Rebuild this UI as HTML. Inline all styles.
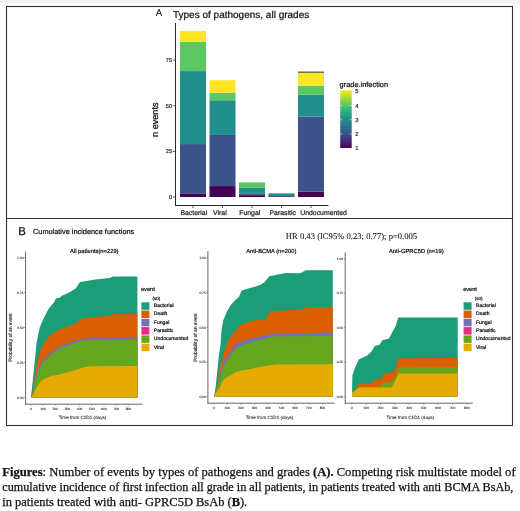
<!DOCTYPE html>
<html><head><meta charset="utf-8"><style>
html,body{margin:0;padding:0;background:#fff;}
body{width:520px;height:511px;position:relative;overflow:hidden;}
svg{position:absolute;left:0;top:0;} .wrap{position:absolute;left:0;top:0;width:520px;height:511px;filter:blur(0.35px);} text{text-rendering:geometricPrecision;}
.cap{position:absolute;left:2.3px;font-family:"Liberation Serif",serif;line-height:12px;height:12px;color:#111;white-space:nowrap;-webkit-text-stroke:0.25px #111;}
</style></head><body>
<div class="wrap">
<svg width="520" height="511" viewBox="0 0 520 511">
<rect x="0" y="0" width="520" height="3" fill="#f2f2f2"/>
<rect x="0" y="3" width="520" height="1" fill="#f8f8f8"/>
<rect x="6.5" y="6.5" width="506" height="419" fill="none" stroke="#333" stroke-width="1.1"/>
<line x1="6" y1="218.5" x2="513" y2="218.5" stroke="#333" stroke-width="1.1"/>
<text x="155.7" y="16.3" font-size="9.7" fill="#111" text-anchor="start" font-family="Liberation Sans" font-weight="normal" stroke="#111" stroke-width="0.1">A</text>
<text x="173.0" y="18.0" font-size="10.0" fill="#111" text-anchor="start" font-family="Liberation Sans" font-weight="normal" stroke="#111" stroke-width="0.22">Types of pathogens, all grades</text>
<rect x="180.0" y="193.35" width="26" height="3.65" fill="#440154"/>
<rect x="180.0" y="144.07" width="26" height="49.28" fill="#3B528B"/>
<rect x="180.0" y="71.08" width="26" height="73.00" fill="#21908C"/>
<rect x="180.0" y="41.88" width="26" height="29.20" fill="#5DC863"/>
<rect x="180.0" y="30.93" width="26" height="10.95" fill="#FDE725"/>
<line x1="193.0" y1="206" x2="193.0" y2="208" stroke="#333" stroke-width="0.8"/>
<text x="180.4" y="214.8" font-size="6.9" fill="#222" text-anchor="start" font-family="Liberation Sans" font-weight="normal" stroke="#222" stroke-width="0.22">Bacterial</text>
<rect x="209.5" y="186.05" width="26" height="10.95" fill="#440154"/>
<rect x="209.5" y="134.95" width="26" height="51.10" fill="#3B528B"/>
<rect x="209.5" y="100.28" width="26" height="34.67" fill="#21908C"/>
<rect x="209.5" y="92.98" width="26" height="7.30" fill="#5DC863"/>
<rect x="209.5" y="80.20" width="26" height="12.78" fill="#FDE725"/>
<line x1="222.5" y1="206" x2="222.5" y2="208" stroke="#333" stroke-width="0.8"/>
<text x="213.0" y="214.8" font-size="6.9" fill="#222" text-anchor="start" font-family="Liberation Sans" font-weight="normal" stroke="#222" stroke-width="0.22">Viral</text>
<rect x="239.0" y="195.18" width="26" height="1.82" fill="#440154"/>
<rect x="239.0" y="193.35" width="26" height="1.83" fill="#3B528B"/>
<rect x="239.0" y="187.88" width="26" height="5.47" fill="#21908C"/>
<rect x="239.0" y="182.40" width="26" height="5.47" fill="#5DC863"/>
<line x1="252.0" y1="206" x2="252.0" y2="208" stroke="#333" stroke-width="0.8"/>
<text x="239.2" y="214.8" font-size="6.9" fill="#222" text-anchor="start" font-family="Liberation Sans" font-weight="normal" stroke="#222" stroke-width="0.22">Fungal</text>
<rect x="268.5" y="195.18" width="26" height="1.82" fill="#3B528B"/>
<rect x="268.5" y="193.35" width="26" height="1.83" fill="#21908C"/>
<line x1="281.5" y1="206" x2="281.5" y2="208" stroke="#333" stroke-width="0.8"/>
<text x="269.5" y="214.8" font-size="6.9" fill="#222" text-anchor="start" font-family="Liberation Sans" font-weight="normal" stroke="#222" stroke-width="0.22">Parasitic</text>
<rect x="298.0" y="191.53" width="26" height="5.47" fill="#440154"/>
<rect x="298.0" y="116.70" width="26" height="74.83" fill="#3B528B"/>
<rect x="298.0" y="94.80" width="26" height="21.90" fill="#21908C"/>
<rect x="298.0" y="85.67" width="26" height="9.12" fill="#5DC863"/>
<rect x="298.0" y="72.90" width="26" height="12.77" fill="#FDE725"/>
<rect x="298.0" y="71.50" width="26" height="1.4" fill="#6a6530"/>
<line x1="311.0" y1="206" x2="311.0" y2="208" stroke="#333" stroke-width="0.8"/>
<text x="300.2" y="214.8" font-size="6.9" fill="#222" text-anchor="start" font-family="Liberation Sans" font-weight="normal" stroke="#222" stroke-width="0.22">Undocumented</text>
<line x1="175.5" y1="23" x2="175.5" y2="206" stroke="#2a2a2a" stroke-width="1"/>
<line x1="175" y1="205.5" x2="328.4" y2="205.5" stroke="#2a2a2a" stroke-width="1"/>
<line x1="172.8" y1="197.0" x2="175.5" y2="197.0" stroke="#333" stroke-width="0.8"/>
<text x="172.0" y="199.0" font-size="5.6" fill="#333" text-anchor="end" font-family="Liberation Sans" font-weight="normal" stroke="#333" stroke-width="0.22">0</text>
<line x1="172.8" y1="151.375" x2="175.5" y2="151.375" stroke="#333" stroke-width="0.8"/>
<text x="172.0" y="153.375" font-size="5.6" fill="#333" text-anchor="end" font-family="Liberation Sans" font-weight="normal" stroke="#333" stroke-width="0.22">25</text>
<line x1="172.8" y1="105.75" x2="175.5" y2="105.75" stroke="#333" stroke-width="0.8"/>
<text x="172.0" y="107.75" font-size="5.6" fill="#333" text-anchor="end" font-family="Liberation Sans" font-weight="normal" stroke="#333" stroke-width="0.22">50</text>
<line x1="172.8" y1="60.125" x2="175.5" y2="60.125" stroke="#333" stroke-width="0.8"/>
<text x="172.0" y="62.125" font-size="5.6" fill="#333" text-anchor="end" font-family="Liberation Sans" font-weight="normal" stroke="#333" stroke-width="0.22">75</text>
<text x="0" y="0" font-size="9.1" fill="#111" stroke="#111" stroke-width="0.3" text-anchor="middle" font-family="Liberation Sans" transform="translate(158.3,119.7) rotate(-90)">n events</text>
<text x="339.6" y="86.9" font-size="7.4" fill="#111" text-anchor="start" font-family="Liberation Sans" font-weight="normal" stroke="#111" stroke-width="0.22">grade.infection</text>
<defs><linearGradient id="vg" x1="0" y1="1" x2="0" y2="0"><stop offset="0.0" stop-color="#440154"/><stop offset="0.1" stop-color="#482576"/><stop offset="0.2" stop-color="#414487"/><stop offset="0.3" stop-color="#35608D"/><stop offset="0.4" stop-color="#2A788E"/><stop offset="0.5" stop-color="#21908C"/><stop offset="0.6" stop-color="#22A884"/><stop offset="0.7" stop-color="#43BF71"/><stop offset="0.8" stop-color="#7AD151"/><stop offset="0.9" stop-color="#BBDF27"/><stop offset="1.0" stop-color="#FDE725"/></linearGradient></defs>
<rect x="340.2" y="90.2" width="11.5" height="57.8" fill="url(#vg)"/>
<text x="355.2" y="93.3" font-size="5.8" fill="#333" text-anchor="start" font-family="Liberation Sans" font-weight="normal" stroke="#333" stroke-width="0.22">5</text>
<text x="355.2" y="107.57" font-size="5.8" fill="#333" text-anchor="start" font-family="Liberation Sans" font-weight="normal" stroke="#333" stroke-width="0.22">4</text>
<line x1="340.2" y1="105.47" x2="342.4" y2="105.47" stroke="#fff" stroke-width="0.5"/>
<line x1="349.5" y1="105.47" x2="351.7" y2="105.47" stroke="#fff" stroke-width="0.5"/>
<text x="355.2" y="121.84" font-size="5.8" fill="#333" text-anchor="start" font-family="Liberation Sans" font-weight="normal" stroke="#333" stroke-width="0.22">3</text>
<line x1="340.2" y1="119.74000000000001" x2="342.4" y2="119.74000000000001" stroke="#fff" stroke-width="0.5"/>
<line x1="349.5" y1="119.74000000000001" x2="351.7" y2="119.74000000000001" stroke="#fff" stroke-width="0.5"/>
<text x="355.2" y="136.10999999999999" font-size="5.8" fill="#333" text-anchor="start" font-family="Liberation Sans" font-weight="normal" stroke="#333" stroke-width="0.22">2</text>
<line x1="340.2" y1="134.01" x2="342.4" y2="134.01" stroke="#fff" stroke-width="0.5"/>
<line x1="349.5" y1="134.01" x2="351.7" y2="134.01" stroke="#fff" stroke-width="0.5"/>
<text x="355.2" y="150.38" font-size="5.8" fill="#333" text-anchor="start" font-family="Liberation Sans" font-weight="normal" stroke="#333" stroke-width="0.22">1</text>
<text x="18.3" y="234.8" font-size="11.4" fill="#111" text-anchor="start" font-family="Liberation Sans" font-weight="normal" stroke="#111" stroke-width="0.25">B</text>
<text x="33" y="233.5" font-size="7.35" fill="#111" text-anchor="start" font-family="Liberation Sans" font-weight="normal" stroke="#111" stroke-width="0.22">Cumulative incidence functions</text>
<text x="285.8" y="238.7" font-size="8.62" fill="#111" text-anchor="start" font-family="Liberation Serif" font-weight="normal" stroke="#111" stroke-width="0.08">HR 0.43 (IC95% 0.23; 0.77); p=0.005</text>
<polygon points="30.9,397.6 31.4,393.0 32.7,381.0 34.5,363.5 36.6,343.0 38.3,334.1 39.8,327.3 42.7,320.4 46.1,313.6 48.6,308.7 52.0,304.8 54.4,301.8 55.9,298.4 60.0,297.6 62.0,295.8 69.1,292.4 75.9,288.3 79.4,282.8 80.0,282.1 88.0,280.8 95.1,279.4 109.5,278.0 112.9,276.6 137.4,276.6 137.4,397.6 30.9,397.6" fill="#1B9E77"/>
<polygon points="30.9,397.6 32.7,390.5 34.5,378.7 36.8,364.0 39.7,352.6 42.0,346.5 45.3,340.8 51.3,334.3 58.0,330.0 68.5,326.5 73.5,324.6 77.9,321.5 81.5,319.0 88.0,317.5 99.8,316.8 111.5,315.2 112.9,314.2 137.4,314.0 137.4,397.6 30.9,397.6" fill="#D95F02"/>
<polygon points="30.9,397.6 33.0,390.5 34.6,381.3 38.2,368.5 41.7,361.5 48.7,354.4 57.6,347.4 62.2,345.4 76.0,340.6 80.0,339.4 88.2,338.0 137.4,337.5 137.4,397.6 30.9,397.6" fill="#7570B3"/>
<polygon points="30.9,397.6 33.3,391.6 35.0,382.3 38.6,370.5 42.1,363.5 49.1,356.4 58.0,349.4 62.2,347.6 76.0,342.6 80.0,341.3 88.2,340.3 137.4,340.1 137.4,397.6 30.9,397.6" fill="#66A61E"/>
<polygon points="30.9,397.6 32.7,395.2 35.0,390.5 37.4,386.0 40.9,381.3 43.7,379.3 46.8,377.8 51.4,376.0 58.0,374.8 61.0,374.3 68.5,372.0 76.3,369.7 84.1,367.3 90.0,366.2 137.4,365.9 137.4,397.6 30.9,397.6" fill="#E6AB02"/>
<line x1="25.6" y1="251.4" x2="25.6" y2="404.7" stroke="#555" stroke-width="0.9"/>
<line x1="25.150000000000002" y1="404.2" x2="142.6" y2="404.2" stroke="#555" stroke-width="0.9"/>
<line x1="24.1" y1="397.6" x2="25.6" y2="397.6" stroke="#555" stroke-width="0.5"/>
<text x="23.5" y="398.8" font-size="3.3" fill="#333" text-anchor="end" font-family="Liberation Sans" font-weight="normal" stroke="#333" stroke-width="0.12">0.00</text>
<line x1="24.1" y1="362.6" x2="25.6" y2="362.6" stroke="#555" stroke-width="0.5"/>
<text x="23.5" y="363.8" font-size="3.3" fill="#333" text-anchor="end" font-family="Liberation Sans" font-weight="normal" stroke="#333" stroke-width="0.12">0.25</text>
<line x1="24.1" y1="327.6" x2="25.6" y2="327.6" stroke="#555" stroke-width="0.5"/>
<text x="23.5" y="328.8" font-size="3.3" fill="#333" text-anchor="end" font-family="Liberation Sans" font-weight="normal" stroke="#333" stroke-width="0.12">0.50</text>
<line x1="24.1" y1="292.6" x2="25.6" y2="292.6" stroke="#555" stroke-width="0.5"/>
<text x="23.5" y="293.8" font-size="3.3" fill="#333" text-anchor="end" font-family="Liberation Sans" font-weight="normal" stroke="#333" stroke-width="0.12">0.75</text>
<line x1="24.1" y1="257.6" x2="25.6" y2="257.6" stroke="#555" stroke-width="0.5"/>
<text x="23.5" y="258.8" font-size="3.3" fill="#333" text-anchor="end" font-family="Liberation Sans" font-weight="normal" stroke="#333" stroke-width="0.12">1.00</text>
<line x1="30.8" y1="404.2" x2="30.8" y2="405.7" stroke="#555" stroke-width="0.5"/>
<text x="30.8" y="409.59999999999997" font-size="3.3" fill="#333" text-anchor="middle" font-family="Liberation Sans" font-weight="normal" stroke="#333" stroke-width="0.12">0</text>
<line x1="43.0" y1="404.2" x2="43.0" y2="405.7" stroke="#555" stroke-width="0.5"/>
<text x="43.0" y="409.59999999999997" font-size="3.3" fill="#333" text-anchor="middle" font-family="Liberation Sans" font-weight="normal" stroke="#333" stroke-width="0.12">100</text>
<line x1="55.2" y1="404.2" x2="55.2" y2="405.7" stroke="#555" stroke-width="0.5"/>
<text x="55.2" y="409.59999999999997" font-size="3.3" fill="#333" text-anchor="middle" font-family="Liberation Sans" font-weight="normal" stroke="#333" stroke-width="0.12">200</text>
<line x1="67.4" y1="404.2" x2="67.4" y2="405.7" stroke="#555" stroke-width="0.5"/>
<text x="67.4" y="409.59999999999997" font-size="3.3" fill="#333" text-anchor="middle" font-family="Liberation Sans" font-weight="normal" stroke="#333" stroke-width="0.12">300</text>
<line x1="79.6" y1="404.2" x2="79.6" y2="405.7" stroke="#555" stroke-width="0.5"/>
<text x="79.6" y="409.59999999999997" font-size="3.3" fill="#333" text-anchor="middle" font-family="Liberation Sans" font-weight="normal" stroke="#333" stroke-width="0.12">400</text>
<line x1="91.8" y1="404.2" x2="91.8" y2="405.7" stroke="#555" stroke-width="0.5"/>
<text x="91.8" y="409.59999999999997" font-size="3.3" fill="#333" text-anchor="middle" font-family="Liberation Sans" font-weight="normal" stroke="#333" stroke-width="0.12">500</text>
<line x1="104.0" y1="404.2" x2="104.0" y2="405.7" stroke="#555" stroke-width="0.5"/>
<text x="104.0" y="409.59999999999997" font-size="3.3" fill="#333" text-anchor="middle" font-family="Liberation Sans" font-weight="normal" stroke="#333" stroke-width="0.12">600</text>
<line x1="116.19999999999999" y1="404.2" x2="116.19999999999999" y2="405.7" stroke="#555" stroke-width="0.5"/>
<text x="116.19999999999999" y="409.59999999999997" font-size="3.3" fill="#333" text-anchor="middle" font-family="Liberation Sans" font-weight="normal" stroke="#333" stroke-width="0.12">700</text>
<line x1="128.4" y1="404.2" x2="128.4" y2="405.7" stroke="#555" stroke-width="0.5"/>
<text x="128.4" y="409.59999999999997" font-size="3.3" fill="#333" text-anchor="middle" font-family="Liberation Sans" font-weight="normal" stroke="#333" stroke-width="0.12">800</text>
<text x="94.3" y="253.3" font-size="5.8" fill="#111" text-anchor="middle" font-family="Liberation Sans" font-weight="normal" stroke="#111" stroke-width="0.22">All patients(n=229)</text>
<text x="82.5" y="418.6" font-size="4.6" fill="#222" text-anchor="middle" font-family="Liberation Sans" font-weight="normal" stroke="#222" stroke-width="0.08">Time from C1D1 (days)</text>
<text x="0" y="0" font-size="4.9" fill="#222" stroke="#222" stroke-width="0.15" text-anchor="middle" font-family="Liberation Sans" transform="translate(12.1,337.5) rotate(-90)">Probability of an event</text>
<text x="141.0" y="290.8" font-size="5.6" fill="#111" text-anchor="start" font-family="Liberation Sans" font-weight="normal" stroke="#111" stroke-width="0.22">event</text>
<text x="152.6" y="299.6" font-size="4.4" fill="#222" text-anchor="start" font-family="Liberation Sans" font-weight="normal" stroke="#222" stroke-width="0.22">(s0)</text>
<rect x="141.4" y="302.30" width="8" height="7.5" fill="#1B9E77"/>
<text x="153.8" y="307.2" font-size="5.1" fill="#111" text-anchor="start" font-family="Liberation Sans" font-weight="normal" stroke="#111" stroke-width="0.22">Bacterial</text>
<rect x="141.4" y="310.57" width="8" height="7.5" fill="#D95F02"/>
<text x="153.8" y="315.46999999999997" font-size="5.1" fill="#111" text-anchor="start" font-family="Liberation Sans" font-weight="normal" stroke="#111" stroke-width="0.22">Death</text>
<rect x="141.4" y="318.84" width="8" height="7.5" fill="#7570B3"/>
<text x="153.8" y="323.74" font-size="5.1" fill="#111" text-anchor="start" font-family="Liberation Sans" font-weight="normal" stroke="#111" stroke-width="0.22">Fungal</text>
<rect x="141.4" y="327.11" width="8" height="7.5" fill="#E7298A"/>
<text x="153.8" y="332.01" font-size="5.1" fill="#111" text-anchor="start" font-family="Liberation Sans" font-weight="normal" stroke="#111" stroke-width="0.22">Parasitic</text>
<rect x="141.4" y="335.38" width="8" height="7.5" fill="#66A61E"/>
<text x="153.8" y="340.28" font-size="5.1" fill="#111" text-anchor="start" font-family="Liberation Sans" font-weight="normal" stroke="#111" stroke-width="0.22">Undocumented</text>
<rect x="141.4" y="343.65" width="8" height="7.5" fill="#E6AB02"/>
<text x="153.8" y="348.54999999999995" font-size="5.1" fill="#111" text-anchor="start" font-family="Liberation Sans" font-weight="normal" stroke="#111" stroke-width="0.22">Viral</text>
<polygon points="214.2,396.6 216.2,382.0 218.5,358.7 220.5,345.0 221.5,330.0 223.3,320.2 226.7,312.0 230.8,305.1 235.6,299.7 239.0,296.9 241.1,291.4 242.5,290.3 248.2,288.6 254.6,286.7 260.1,284.9 264.7,282.1 269.3,276.3 285.7,273.0 300.3,273.3 305.8,270.2 332.8,270.2 332.8,396.6 214.2,396.6" fill="#1B9E77"/>
<polygon points="214.2,396.6 217.0,385.0 220.3,366.0 222.0,360.5 223.7,353.5 226.9,343.0 230.8,336.2 234.9,331.0 237.8,328.3 241.0,324.8 248.0,322.0 252.0,321.0 255.2,320.3 265.5,319.5 270.2,311.3 303.4,309.5 304.7,307.5 332.8,306.8 332.8,396.6 214.2,396.6" fill="#D95F02"/>
<polygon points="214.2,396.6 217.5,385.0 221.0,370.0 224.0,362.0 226.1,358.5 229.6,353.0 235.0,344.6 243.7,340.5 250.7,338.4 258.0,337.0 266.3,335.2 271.8,333.7 332.8,332.5 332.8,396.6 214.2,396.6" fill="#7570B3"/>
<polygon points="214.2,396.6 217.8,386.0 221.5,372.0 224.5,364.5 226.8,361.5 230.5,356.0 235.0,348.5 243.7,344.5 250.7,342.3 258.0,340.3 266.3,338.4 271.8,336.6 332.8,336.0 332.8,396.6 214.2,396.6" fill="#66A61E"/>
<polygon points="214.2,396.6 216.2,392.5 218.4,389.5 220.6,386.0 222.3,382.0 224.1,379.0 227.6,377.0 232.9,374.5 235.0,372.5 240.0,370.8 250.7,368.9 258.0,367.3 266.3,365.8 276.0,364.6 332.8,364.2 332.8,396.6 214.2,396.6" fill="#E6AB02"/>
<line x1="207.9" y1="251.2" x2="207.9" y2="403.7" stroke="#555" stroke-width="0.9"/>
<line x1="207.45000000000002" y1="403.2" x2="334.6" y2="403.2" stroke="#555" stroke-width="0.9"/>
<line x1="206.4" y1="396.6" x2="207.9" y2="396.6" stroke="#555" stroke-width="0.5"/>
<text x="205.8" y="397.8" font-size="3.3" fill="#333" text-anchor="end" font-family="Liberation Sans" font-weight="normal" stroke="#333" stroke-width="0.12">0.00</text>
<line x1="206.4" y1="361.95000000000005" x2="207.9" y2="361.95000000000005" stroke="#555" stroke-width="0.5"/>
<text x="205.8" y="363.15000000000003" font-size="3.3" fill="#333" text-anchor="end" font-family="Liberation Sans" font-weight="normal" stroke="#333" stroke-width="0.12">0.25</text>
<line x1="206.4" y1="327.3" x2="207.9" y2="327.3" stroke="#555" stroke-width="0.5"/>
<text x="205.8" y="328.5" font-size="3.3" fill="#333" text-anchor="end" font-family="Liberation Sans" font-weight="normal" stroke="#333" stroke-width="0.12">0.50</text>
<line x1="206.4" y1="292.65000000000003" x2="207.9" y2="292.65000000000003" stroke="#555" stroke-width="0.5"/>
<text x="205.8" y="293.85" font-size="3.3" fill="#333" text-anchor="end" font-family="Liberation Sans" font-weight="normal" stroke="#333" stroke-width="0.12">0.75</text>
<line x1="206.4" y1="258.0" x2="207.9" y2="258.0" stroke="#555" stroke-width="0.5"/>
<text x="205.8" y="259.2" font-size="3.3" fill="#333" text-anchor="end" font-family="Liberation Sans" font-weight="normal" stroke="#333" stroke-width="0.12">1.00</text>
<line x1="213.6" y1="403.2" x2="213.6" y2="404.7" stroke="#555" stroke-width="0.5"/>
<text x="213.6" y="408.59999999999997" font-size="3.3" fill="#333" text-anchor="middle" font-family="Liberation Sans" font-weight="normal" stroke="#333" stroke-width="0.12">0</text>
<line x1="227.2" y1="403.2" x2="227.2" y2="404.7" stroke="#555" stroke-width="0.5"/>
<text x="227.2" y="408.59999999999997" font-size="3.3" fill="#333" text-anchor="middle" font-family="Liberation Sans" font-weight="normal" stroke="#333" stroke-width="0.12">100</text>
<line x1="240.8" y1="403.2" x2="240.8" y2="404.7" stroke="#555" stroke-width="0.5"/>
<text x="240.8" y="408.59999999999997" font-size="3.3" fill="#333" text-anchor="middle" font-family="Liberation Sans" font-weight="normal" stroke="#333" stroke-width="0.12">200</text>
<line x1="254.4" y1="403.2" x2="254.4" y2="404.7" stroke="#555" stroke-width="0.5"/>
<text x="254.4" y="408.59999999999997" font-size="3.3" fill="#333" text-anchor="middle" font-family="Liberation Sans" font-weight="normal" stroke="#333" stroke-width="0.12">300</text>
<line x1="268.0" y1="403.2" x2="268.0" y2="404.7" stroke="#555" stroke-width="0.5"/>
<text x="268.0" y="408.59999999999997" font-size="3.3" fill="#333" text-anchor="middle" font-family="Liberation Sans" font-weight="normal" stroke="#333" stroke-width="0.12">400</text>
<line x1="281.6" y1="403.2" x2="281.6" y2="404.7" stroke="#555" stroke-width="0.5"/>
<text x="281.6" y="408.59999999999997" font-size="3.3" fill="#333" text-anchor="middle" font-family="Liberation Sans" font-weight="normal" stroke="#333" stroke-width="0.12">500</text>
<line x1="295.2" y1="403.2" x2="295.2" y2="404.7" stroke="#555" stroke-width="0.5"/>
<text x="295.2" y="408.59999999999997" font-size="3.3" fill="#333" text-anchor="middle" font-family="Liberation Sans" font-weight="normal" stroke="#333" stroke-width="0.12">600</text>
<line x1="308.8" y1="403.2" x2="308.8" y2="404.7" stroke="#555" stroke-width="0.5"/>
<text x="308.8" y="408.59999999999997" font-size="3.3" fill="#333" text-anchor="middle" font-family="Liberation Sans" font-weight="normal" stroke="#333" stroke-width="0.12">700</text>
<line x1="322.4" y1="403.2" x2="322.4" y2="404.7" stroke="#555" stroke-width="0.5"/>
<text x="322.4" y="408.59999999999997" font-size="3.3" fill="#333" text-anchor="middle" font-family="Liberation Sans" font-weight="normal" stroke="#333" stroke-width="0.12">800</text>
<text x="271.3" y="253.3" font-size="5.8" fill="#111" text-anchor="middle" font-family="Liberation Sans" font-weight="normal" stroke="#111" stroke-width="0.22">Anti-BCMA (n=200)</text>
<text x="269.5" y="418.6" font-size="4.6" fill="#222" text-anchor="middle" font-family="Liberation Sans" font-weight="normal" stroke="#222" stroke-width="0.08">Time from C1D1 (days)</text>
<text x="0" y="0" font-size="4.9" fill="#222" stroke="#222" stroke-width="0.15" text-anchor="middle" font-family="Liberation Sans" transform="translate(196.8,337.5) rotate(-90)">Probability of an event</text>
<polygon points="352.0,396.6 352.2,385.0 352.4,375.3 355.3,367.0 358.8,359.4 367.6,355.3 371.2,351.8 374.7,345.9 379.4,344.7 381.7,341.2 382.9,340.0 388.8,338.8 392.6,331.5 395.6,326.3 398.2,317.6 457.7,317.6 457.7,396.6 352.0,396.6" fill="#1B9E77"/>
<polygon points="352.0,396.6 354.7,391.7 358.8,384.1 371.2,383.5 374.7,379.4 381.7,378.8 383.5,373.5 391.1,372.9 395.8,368.2 398.2,358.2 457.7,358.0 457.7,396.6 352.0,396.6" fill="#D95F02"/>
<polygon points="352.0,396.6 352.0,393.0 358.8,387.6 380.0,387.6 383.0,383.0 391.1,382.3 395.8,377.6 397.6,370.6 398.2,367.4 457.7,367.2 457.7,396.6 352.0,396.6" fill="#66A61E"/>
<polygon points="352.0,396.6 352.0,393.0 358.8,387.6 391.7,387.6 397.0,377.6 398.2,373.6 457.7,373.5 457.7,396.6 352.0,396.6" fill="#E6AB02"/>
<line x1="345.2" y1="252.4" x2="345.2" y2="403.7" stroke="#555" stroke-width="0.9"/>
<line x1="344.75" y1="403.2" x2="472.7" y2="403.2" stroke="#555" stroke-width="0.9"/>
<line x1="343.7" y1="396.6" x2="345.2" y2="396.6" stroke="#555" stroke-width="0.5"/>
<text x="343.09999999999997" y="397.8" font-size="3.3" fill="#333" text-anchor="end" font-family="Liberation Sans" font-weight="normal" stroke="#333" stroke-width="0.12">0.00</text>
<line x1="343.7" y1="362.15000000000003" x2="345.2" y2="362.15000000000003" stroke="#555" stroke-width="0.5"/>
<text x="343.09999999999997" y="363.35" font-size="3.3" fill="#333" text-anchor="end" font-family="Liberation Sans" font-weight="normal" stroke="#333" stroke-width="0.12">0.25</text>
<line x1="343.7" y1="327.70000000000005" x2="345.2" y2="327.70000000000005" stroke="#555" stroke-width="0.5"/>
<text x="343.09999999999997" y="328.90000000000003" font-size="3.3" fill="#333" text-anchor="end" font-family="Liberation Sans" font-weight="normal" stroke="#333" stroke-width="0.12">0.50</text>
<line x1="343.7" y1="293.25" x2="345.2" y2="293.25" stroke="#555" stroke-width="0.5"/>
<text x="343.09999999999997" y="294.45" font-size="3.3" fill="#333" text-anchor="end" font-family="Liberation Sans" font-weight="normal" stroke="#333" stroke-width="0.12">0.75</text>
<line x1="343.7" y1="258.8" x2="345.2" y2="258.8" stroke="#555" stroke-width="0.5"/>
<text x="343.09999999999997" y="260.0" font-size="3.3" fill="#333" text-anchor="end" font-family="Liberation Sans" font-weight="normal" stroke="#333" stroke-width="0.12">1.00</text>
<line x1="351.7" y1="403.2" x2="351.7" y2="404.7" stroke="#555" stroke-width="0.5"/>
<text x="351.7" y="408.59999999999997" font-size="3.3" fill="#333" text-anchor="middle" font-family="Liberation Sans" font-weight="normal" stroke="#333" stroke-width="0.12">0</text>
<line x1="366.09999999999997" y1="403.2" x2="366.09999999999997" y2="404.7" stroke="#555" stroke-width="0.5"/>
<text x="366.09999999999997" y="408.59999999999997" font-size="3.3" fill="#333" text-anchor="middle" font-family="Liberation Sans" font-weight="normal" stroke="#333" stroke-width="0.12">100</text>
<line x1="380.5" y1="403.2" x2="380.5" y2="404.7" stroke="#555" stroke-width="0.5"/>
<text x="380.5" y="408.59999999999997" font-size="3.3" fill="#333" text-anchor="middle" font-family="Liberation Sans" font-weight="normal" stroke="#333" stroke-width="0.12">200</text>
<line x1="394.9" y1="403.2" x2="394.9" y2="404.7" stroke="#555" stroke-width="0.5"/>
<text x="394.9" y="408.59999999999997" font-size="3.3" fill="#333" text-anchor="middle" font-family="Liberation Sans" font-weight="normal" stroke="#333" stroke-width="0.12">300</text>
<line x1="409.29999999999995" y1="403.2" x2="409.29999999999995" y2="404.7" stroke="#555" stroke-width="0.5"/>
<text x="409.29999999999995" y="408.59999999999997" font-size="3.3" fill="#333" text-anchor="middle" font-family="Liberation Sans" font-weight="normal" stroke="#333" stroke-width="0.12">400</text>
<line x1="423.7" y1="403.2" x2="423.7" y2="404.7" stroke="#555" stroke-width="0.5"/>
<text x="423.7" y="408.59999999999997" font-size="3.3" fill="#333" text-anchor="middle" font-family="Liberation Sans" font-weight="normal" stroke="#333" stroke-width="0.12">500</text>
<line x1="438.09999999999997" y1="403.2" x2="438.09999999999997" y2="404.7" stroke="#555" stroke-width="0.5"/>
<text x="438.09999999999997" y="408.59999999999997" font-size="3.3" fill="#333" text-anchor="middle" font-family="Liberation Sans" font-weight="normal" stroke="#333" stroke-width="0.12">600</text>
<line x1="452.5" y1="403.2" x2="452.5" y2="404.7" stroke="#555" stroke-width="0.5"/>
<text x="452.5" y="408.59999999999997" font-size="3.3" fill="#333" text-anchor="middle" font-family="Liberation Sans" font-weight="normal" stroke="#333" stroke-width="0.12">700</text>
<line x1="466.9" y1="403.2" x2="466.9" y2="404.7" stroke="#555" stroke-width="0.5"/>
<text x="466.9" y="408.59999999999997" font-size="3.3" fill="#333" text-anchor="middle" font-family="Liberation Sans" font-weight="normal" stroke="#333" stroke-width="0.12">800</text>
<text x="416.3" y="253.3" font-size="5.8" fill="#111" text-anchor="middle" font-family="Liberation Sans" font-weight="normal" stroke="#111" stroke-width="0.22">Anti-GPRC5D (n=19)</text>
<text x="410.3" y="418.6" font-size="4.6" fill="#222" text-anchor="middle" font-family="Liberation Sans" font-weight="normal" stroke="#222" stroke-width="0.08">Time from C1D1 (days)</text>
<text x="463.2" y="290.8" font-size="5.6" fill="#111" text-anchor="start" font-family="Liberation Sans" font-weight="normal" stroke="#111" stroke-width="0.22">event</text>
<text x="474.8" y="299.6" font-size="4.4" fill="#222" text-anchor="start" font-family="Liberation Sans" font-weight="normal" stroke="#222" stroke-width="0.22">(s0)</text>
<rect x="463.59999999999997" y="302.30" width="8" height="7.5" fill="#1B9E77"/>
<text x="476.0" y="307.2" font-size="5.1" fill="#111" text-anchor="start" font-family="Liberation Sans" font-weight="normal" stroke="#111" stroke-width="0.22">Bacterial</text>
<rect x="463.59999999999997" y="310.57" width="8" height="7.5" fill="#D95F02"/>
<text x="476.0" y="315.46999999999997" font-size="5.1" fill="#111" text-anchor="start" font-family="Liberation Sans" font-weight="normal" stroke="#111" stroke-width="0.22">Death</text>
<rect x="463.59999999999997" y="318.84" width="8" height="7.5" fill="#7570B3"/>
<text x="476.0" y="323.74" font-size="5.1" fill="#111" text-anchor="start" font-family="Liberation Sans" font-weight="normal" stroke="#111" stroke-width="0.22">Fungal</text>
<rect x="463.59999999999997" y="327.11" width="8" height="7.5" fill="#E7298A"/>
<text x="476.0" y="332.01" font-size="5.1" fill="#111" text-anchor="start" font-family="Liberation Sans" font-weight="normal" stroke="#111" stroke-width="0.22">Parasitic</text>
<rect x="463.59999999999997" y="335.38" width="8" height="7.5" fill="#66A61E"/>
<text x="476.0" y="340.28" font-size="5.1" fill="#111" text-anchor="start" font-family="Liberation Sans" font-weight="normal" stroke="#111" stroke-width="0.22">Undocumented</text>
<rect x="463.59999999999997" y="343.65" width="8" height="7.5" fill="#E6AB02"/>
<text x="476.0" y="348.54999999999995" font-size="5.1" fill="#111" text-anchor="start" font-family="Liberation Sans" font-weight="normal" stroke="#111" stroke-width="0.22">Viral</text>
</svg>
<div class="cap" style="top:466px;font-size:12.58px"><b>Figures</b>: Number of events by types of pathogens and grades <b>(A).</b> Competing risk multistate model of</div>
<div class="cap" style="top:481.4px;font-size:12.2px">cumulative incidence of first infection all grade in all patients, in patients treated with anti BCMA BsAb,</div>
<div class="cap" style="top:496px;font-size:12.46px">in patients treated with anti- GPRC5D BsAb (<b>B</b>).</div>
</div>
</body></html>
